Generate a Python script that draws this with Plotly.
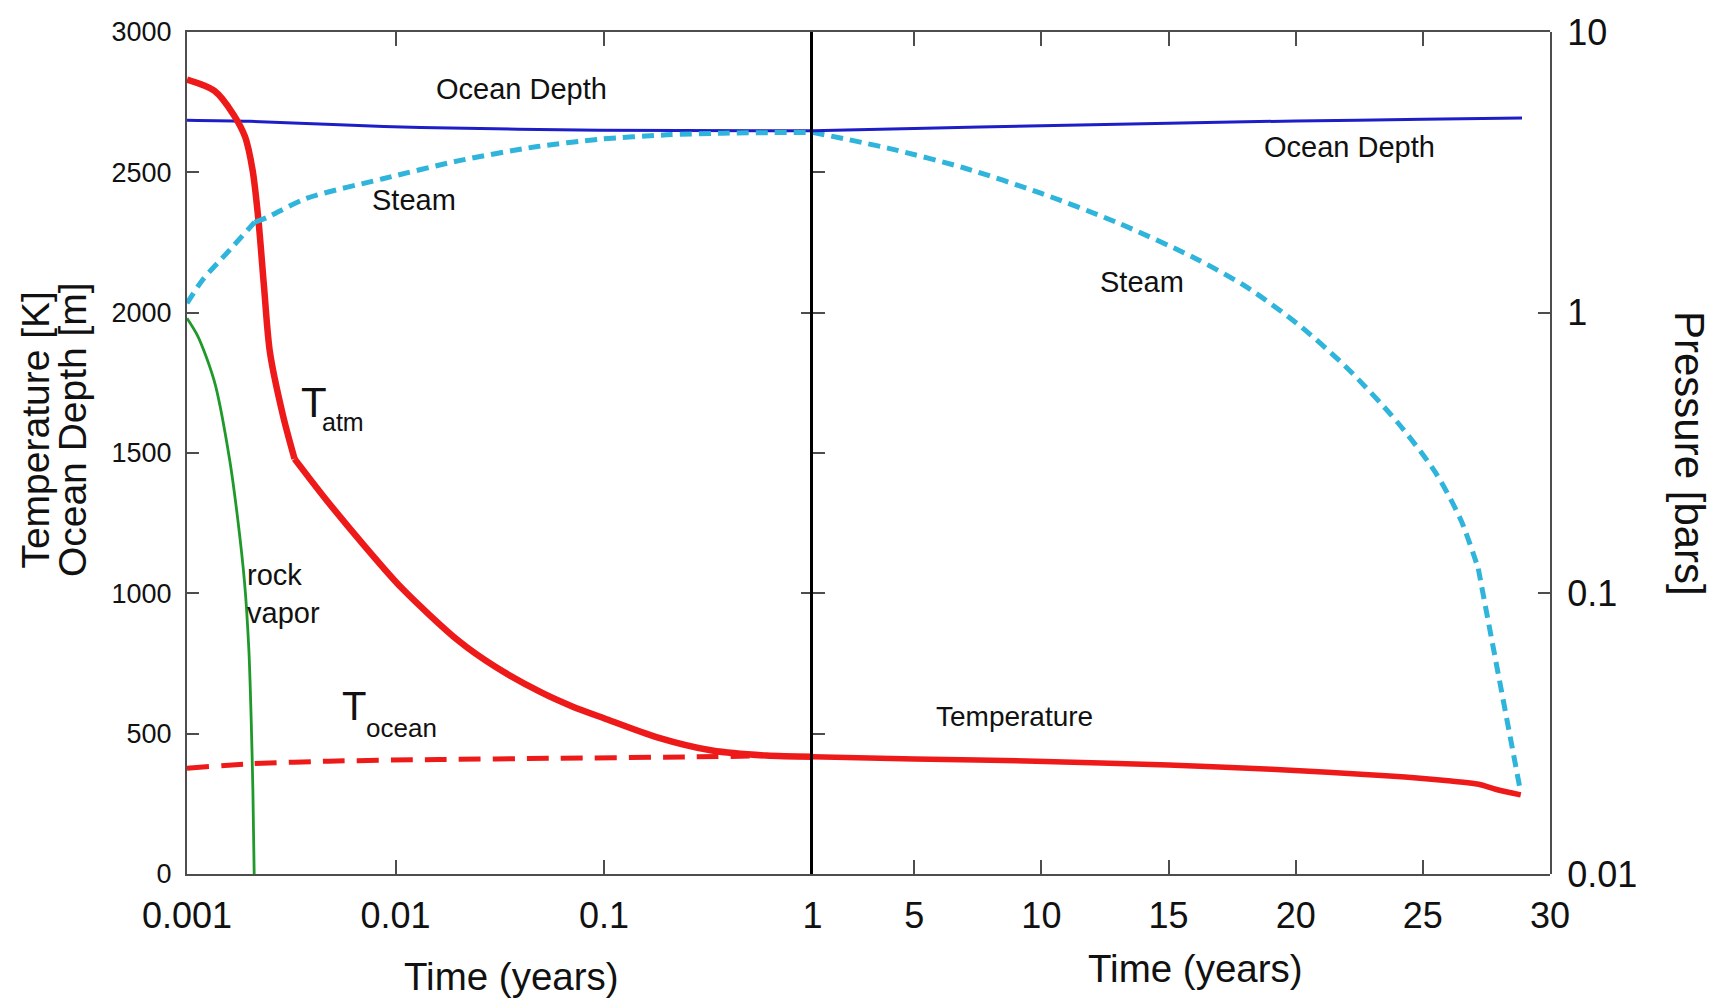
import math
import plotly.graph_objects as go

# ---------------- data ----------------
# Early phase: time on a log axis (years)
t_atm_early = [0.001, 0.001355, 0.001664, 0.0019, 0.002065, 0.0022, 0.00234, 0.0025,
               0.00289, 0.00328, 0.00461, 0.00703, 0.01074, 0.0202, 0.03, 0.05, 0.07,
               0.1, 0.18, 0.33, 0.6, 1.0]
T_atm_early = [2830, 2790, 2708, 2626, 2506, 2331, 2094, 1858,
               1632, 1479, 1337, 1173, 1018, 829, 739, 647, 598,
               555, 487, 440, 422, 418]
ATM_KINK = 9  # index of the bend in the atmosphere curve

t_ocean = [0.001, 0.00206, 0.0048, 0.0161, 0.0542, 0.246, 0.5]
T_ocean = [377, 393, 402, 408, 412, 417, 420]

t_rock = [0.001, 0.00112, 0.00124, 0.00137, 0.0016, 0.001743, 0.001887, 0.00198,
          0.00203, 0.00207, 0.0021]
T_rock = [1980, 1920, 1840, 1740, 1478, 1277, 1041, 800, 560, 300, 0]

t_depth_early = [0.001, 0.002, 0.005, 0.0132, 0.0957, 1.0]
depth_early = [2686, 2682, 2670, 2660, 2650, 2648]

t_steam_early = [0.001, 0.00119, 0.0016, 0.00211, 0.00244, 0.00372, 0.0087, 0.0202,
                 0.0471, 0.0957, 0.2, 0.37, 1.0]
p_steam_early = [1.08, 1.31, 1.67, 2.10, 2.19, 2.55, 3.0, 3.48,
                 3.9, 4.15, 4.3, 4.36, 4.39]
STEAM_EARLY_KINK = 3

# Late phase: time on a linear axis (years)
t_atm_late = [1, 5, 9.78, 15, 19.05, 23.7, 26.0, 27.2, 27.86, 28.85]
T_atm_late = [418, 410, 402, 388, 373, 349, 332, 320, 302, 282]

t_depth_late = [1, 5, 10, 15, 20, 25, 28.9]
depth_late = [2648, 2656, 2666, 2675, 2683, 2689, 2694]

t_steam_late = [1, 4, 7, 10, 13, 16, 18, 20, 22, 24, 25.5, 26.5, 27.18, 28.1, 28.85]
p_steam_late = [4.39, 3.85, 3.27, 2.66, 2.09, 1.57, 1.245, 0.923, 0.638, 0.407,
                0.269, 0.182, 0.1225, 0.044, 0.0195]
STEAM_LATE_KINK = 12

# axis ticks
temp_ticks = [0, 500, 1000, 1500, 2000, 2500, 3000]
early_ticks = [0.001, 0.01, 0.1, 1]
early_labels = ["0.001", "0.01", "0.1", "1"]
late_ticks = [5, 10, 15, 20, 25, 30]
late_labels = ["5", "10", "15", "20", "25", "30"]
pres_ticks = [0.01, 0.1, 1, 10]
pres_labels = ["0.01", "0.1", "1", "10"]

# ---------------- styling ----------------
RED = "#ee1a1a"
BLUE = "#1e1ec8"
CYAN = "#2fb4dc"
GREEN = "#1f9a2a"
FRAME = "#4d4d4d"
TXT = "#111111"
FONT = "Liberation Sans, Arial, Helvetica, sans-serif"

W, H = 1724, 1005
ML, MR, MT, MB = 187, 174, 28, 131
PW = W - ML - MR
PH = H - MT - MB
XSPLIT = 625.5 / PW

fig = go.Figure()

def line(x, y, xa, ya, color, width, dash="solid", smooth=True):
    fig.add_trace(go.Scatter(x=x, y=y, xaxis=xa, yaxis=ya, mode="lines",
                             line=dict(color=color, width=width, dash=dash,
                                       shape="spline" if smooth else "linear",
                                       smoothing=0.8),
                             hoverinfo="skip", showlegend=False))

# early panel
line(t_depth_early, depth_early, "x", "y", BLUE, 3)
line(t_steam_early[:STEAM_EARLY_KINK + 1], p_steam_early[:STEAM_EARLY_KINK + 1],
     "x", "y4", CYAN, 5, "12px,7px")
line(t_steam_early[STEAM_EARLY_KINK:], p_steam_early[STEAM_EARLY_KINK:],
     "x", "y4", CYAN, 5, "12px,7px")
line(t_ocean, T_ocean, "x", "y", RED, 5, "22px,12px")
line(t_rock, T_rock, "x", "y", GREEN, 2.8)
line(t_atm_early[:ATM_KINK + 1], T_atm_early[:ATM_KINK + 1], "x", "y", RED, 6.5)
line(t_atm_early[ATM_KINK:], T_atm_early[ATM_KINK:], "x", "y", RED, 6.5)

# late panel
line(t_depth_late, depth_late, "x2", "y3", BLUE, 3)
line(t_steam_late[:STEAM_LATE_KINK + 1], p_steam_late[:STEAM_LATE_KINK + 1],
     "x2", "y2", CYAN, 5, "12px,7px")
line(t_steam_late[STEAM_LATE_KINK:], p_steam_late[STEAM_LATE_KINK:],
     "x2", "y2", CYAN, 5, "12px,7px", smooth=False)
line(t_atm_late, T_atm_late, "x2", "y3", RED, 5.5)

common_x = dict(ticks="inside", ticklen=14, tickwidth=2, tickcolor=FRAME,
                showline=True, linecolor=FRAME, linewidth=2, mirror="ticks",
                showgrid=False, zeroline=False,
                tickfont=dict(size=36, color=TXT, family=FONT),
                ticklabelstandoff=9)
common_y = dict(ticks="inside", ticklen=12, tickwidth=2, tickcolor=FRAME,
                showgrid=False, zeroline=False)

fig.update_layout(
    width=W, height=H,
    margin=dict(l=ML, r=MR, t=MT, b=MB, pad=0),
    paper_bgcolor="white", plot_bgcolor="rgba(0,0,0,0)",
    font=dict(family=FONT, color=TXT),
    showlegend=False,
    xaxis=dict(type="log", domain=[0, XSPLIT], range=[-3, 0], anchor="y",
               tickvals=early_ticks, ticktext=early_labels, **common_x),
    xaxis2=dict(domain=[XSPLIT, 1], range=[1, 30], anchor="y3",
                tickvals=late_ticks, ticktext=late_labels, **common_x),
    yaxis=dict(range=[0, 3000], anchor="x", side="left", tickvals=temp_ticks,
               showline=True, linecolor=FRAME, linewidth=2,
               tickfont=dict(size=27, color=TXT, family=FONT),
               ticklabelstandoff=8, **common_y),
    yaxis4=dict(type="log", range=[-2, 1], anchor="x", side="right",
                tickvals=pres_ticks, showticklabels=False, showline=False,
                **common_y),
    yaxis3=dict(range=[0, 3000], anchor="x2", side="left", tickvals=temp_ticks,
                showticklabels=False, showline=True, linecolor="black",
                linewidth=3, **common_y),
    yaxis2=dict(type="log", range=[-2, 1], anchor="x2", side="right",
                tickvals=pres_ticks, ticktext=pres_labels,
                showline=True, linecolor=FRAME, linewidth=2,
                tickfont=dict(size=36, color=TXT, family=FONT),
                ticklabelstandoff=8, **common_y),
)

def lg(v):
    return math.log10(v)

def note(text, x, y, xref, yref, size=29, xanchor="center", yanchor="middle",
         angle=0, align="center"):
    fig.add_annotation(text=text, x=x, y=y, xref=xref, yref=yref, showarrow=False,
                       xanchor=xanchor, yanchor=yanchor, textangle=angle, align=align,
                       font=dict(size=size, color=TXT, family=FONT))

def px_x(px):
    return (px - ML) / PW

def px_y(py):
    return (H - MB - py) / PH

# curve labels, early panel
note("Ocean Depth", lg(0.0404), 2797, "x", "y")
note("Steam", lg(0.0122), 2400, "x", "y")
note("T", lg(0.00405), 1681, "x", "y", size=42)
note("atm", lg(0.00557), 1610, "x", "y", size=25)
note("rock<br>vapor", lg(0.00190), 997, "x", "y", xanchor="left", align="left")
note("T", lg(0.00633), 599, "x", "y", size=40)
note("ocean", lg(0.0107), 521, "x", "y", size=26)

# curve labels, late panel
note("Ocean Depth", 22.13, 2592, "x2", "y3")
note("Steam", 13.97, 2111, "x2", "y3")
note("Temperature", 8.955, 560, "x2", "y3", size=28)

# axis titles
note("Time (years)", px_x(511), px_y(977), "paper", "paper", size=38.5)
note("Time (years)", px_x(1195), px_y(969), "paper", "paper", size=38.5)
note("Temperature [K]", px_x(35.5), px_y(428), "paper", "paper", size=39, angle=-90)
note("Ocean Depth [m]", px_x(72), px_y(428), "paper", "paper", size=39, angle=-90)
note("Pressure [bars]", px_x(1690), px_y(451), "paper", "paper", size=42, angle=90)

fig.write_html("out.html")
